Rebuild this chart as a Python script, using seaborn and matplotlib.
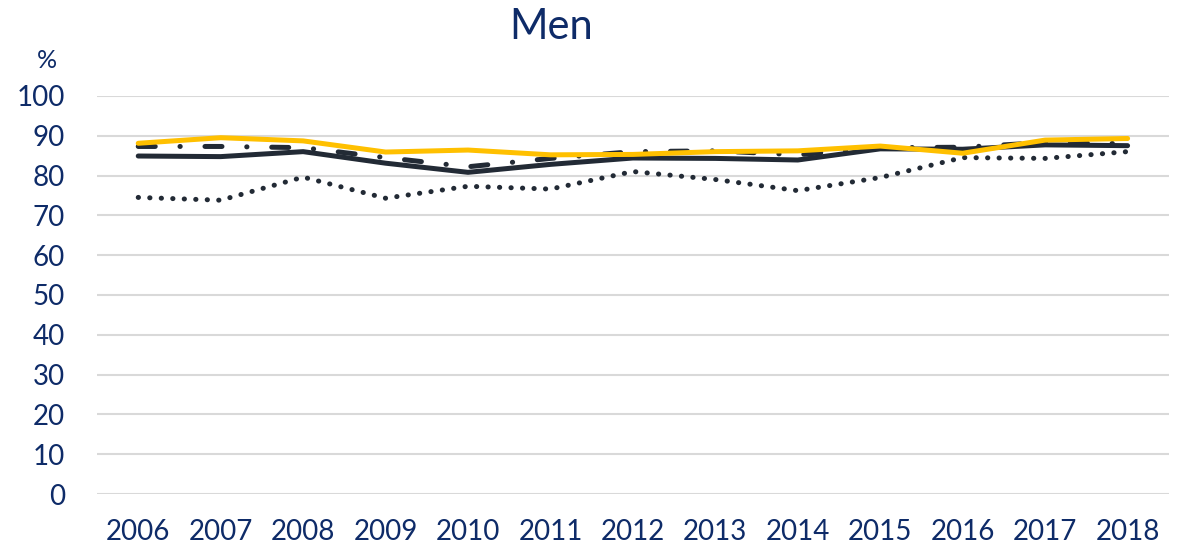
import pandas as pd
import matplotlib.pyplot as plt
import seaborn as sns

years = list(range(2006, 2019))
solid = [84.9, 84.75, 86.0, 83.1, 80.8, 82.8, 84.4, 84.3, 83.9, 86.7, 86.6, 87.7, 87.5]
dashdot = [87.3, 87.3, 87.0, 84.5, 82.2, 84.3, 86.0, 86.2, 85.2, 87.0, 87.1, 88.3, 88.0]
dotted = [74.5, 73.8, 79.6, 74.3, 77.3, 76.6, 81.0, 79.0, 76.2, 79.5, 84.5, 84.3, 86.0]
yellow = [88.1, 89.5, 88.7, 85.9, 86.4, 85.2, 85.3, 86.0, 86.2, 87.4, 85.6, 88.9, 89.3]

navy = '#0e2b68'
dark = '#222a35'
gold = '#ffc000'


def men_plot():
    df = pd.DataFrame({'year': years, 'solid': solid, 'dashdot': dashdot,
                       'dotted': dotted, 'yellow': yellow})

    sns.set_style('white')
    plt.rcParams['font.family'] = ['Lato', 'DejaVu Sans']

    fig = plt.figure(figsize=(11.83, 5.48), dpi=100)
    ax = fig.add_axes([0.082, 0.0985, 0.906, 0.7265])

    lw = 3.6
    sns.lineplot(data=df, x='year', y='dotted', ax=ax, color=dark, lw=lw,
                 solid_capstyle='round')
    ax.lines[-1].set_dashes([0.05, 2.25])
    ax.lines[-1].set_dash_capstyle('round')
    sns.lineplot(data=df, x='year', y='dashdot', ax=ax, color=dark, lw=lw)
    ax.lines[-1].set_dashes([3.4, 4.95, 0.05, 4.95])
    ax.lines[-1].set_dash_capstyle('round')
    sns.lineplot(data=df, x='year', y='solid', ax=ax, color=dark, lw=lw,
                 solid_capstyle='round')
    sns.lineplot(data=df, x='year', y='yellow', ax=ax, color=gold, lw=lw,
                 solid_capstyle='round')

    ax.set_xlim(2005.5, 2018.5)
    ax.set_ylim(0, 100)
    ax.set_xticks(years)
    ax.set_yticks(range(0, 101, 10))
    ax.grid(axis='y', color='#d9d9d9', lw=1.5)
    ax.set_axisbelow(True)
    sns.despine(ax=ax, left=True, bottom=True)
    ax.tick_params(length=0, labelsize=20, labelcolor=navy)
    ax.tick_params(axis='x', pad=18)
    ax.tick_params(axis='y', pad=23)
    ax.set_xlabel('')
    ax.set_ylabel('')

    fig.text(47 / 1183, 1 - 60 / 548, '%', fontsize=18, color=navy,
             ha='center', va='center')
    fig.text(551 / 1183, 1 - 27 / 548, 'Men', fontsize=30, color=navy,
             ha='center', va='center')

    fig.savefig('out.png', dpi=100)


if __name__ == '__main__':
    men_plot()
